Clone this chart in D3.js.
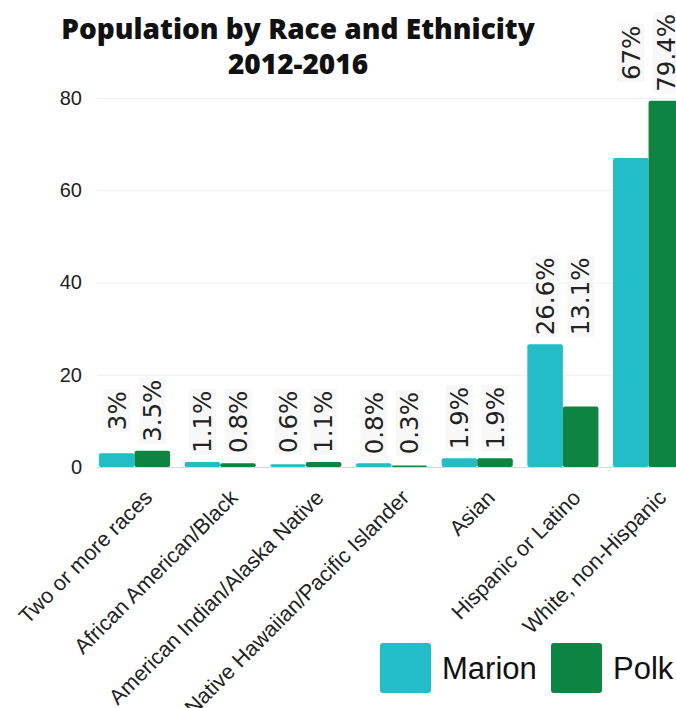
<!DOCTYPE html>
<html>
<head>
<meta charset="utf-8">
<script src="https://cdn.jsdelivr.net/npm/d3@7"></script>
<style>
  html, body { margin: 0; padding: 0; background: #ffffff; }
  svg { display: block; }
</style>
</head>
<body>
<svg id="chart" width="676" height="708"></svg>
<script>
// Population share (%) by race and ethnicity, 2012-2016
const categories = [
  "Two or more races",
  "African American/Black",
  "American Indian/Alaska Native",
  "Native Hawaiian/Pacific Islander",
  "Asian",
  "Hispanic or Latino",
  "White, non-Hispanic"
];
const seriesNames = ["Marion", "Polk"];
const marionValues = [3, 1.1, 0.6, 0.8, 1.9, 26.6, 67];
const polkValues = [3.5, 0.8, 1.1, 0.3, 1.9, 13.1, 79.4];
const yTickValues = [0, 20, 40, 60, 80];
const titleLines = ["Population by Race and Ethnicity", "2012-2016"];

const seriesColors = { Marion: "#23bdc8", Polk: "#0e8442" };
const textFont = "'Liberation Sans', Arial, sans-serif";
const valueFont = "'DejaVu Sans', sans-serif";

const svg = d3.select("#chart");

const x0 = d3.scaleBand()
  .domain(categories)
  .range([91.7, 691.4])
  .paddingInner(0.17)
  .paddingOuter(0.085);

const x1 = d3.scaleBand()
  .domain(seriesNames)
  .range([0, x0.bandwidth()]);

const y = d3.scaleLinear().domain([0, 80]).range([467, 98]);

const rows = categories.map((c, i) => ({
  category: c,
  values: [
    { series: "Marion", value: marionValues[i] },
    { series: "Polk", value: polkValues[i] }
  ]
}));

// Title
svg.append("g")
  .selectAll("text")
  .data(titleLines)
  .join("text")
  .attr("x", 298)
  .attr("y", (d, i) => 39 + i * 35)
  .attr("text-anchor", "middle")
  .attr("font-family", "'Open Sans', sans-serif")
  .attr("font-weight", 800)
  .attr("font-size", 28)
  .attr("fill", "#111")
  .text(d => d);

// Gridlines and y tick labels
const yAxis = d3.axisLeft(y)
  .tickValues(yTickValues)
  .tickSize(-600)
  .tickPadding(15);

const yAxisG = svg.append("g")
  .attr("transform", "translate(97,0)")
  .call(yAxis);
yAxisG.select(".domain").remove();
yAxisG.selectAll(".tick line")
  .attr("stroke", d => d === 0 ? "#d8d8d8" : "#efefef")
  .attr("stroke-width", 1.2);
yAxisG.selectAll(".tick text")
  .attr("font-family", textFont)
  .attr("font-size", 20)
  .attr("fill", "#222");

// Bars
const groups = svg.append("g")
  .selectAll("g")
  .data(rows)
  .join("g")
  .attr("transform", d => `translate(${x0(d.category)},0)`);

groups.selectAll("rect")
  .data(d => d.values)
  .join("rect")
  .attr("x", d => x1(d.series))
  .attr("y", d => y(d.value))
  .attr("width", x1.bandwidth())
  .attr("height", d => y(0) - y(d.value))
  .attr("rx", 2)
  .attr("fill", d => seriesColors[d.series]);

// Value labels, rotated, stacked above the taller bar in each group
const labelFontSize = 24.5;
groups.each(function (row) {
  const g = d3.select(this);
  const top = y(d3.max(row.values, v => v.value));
  const labels = g.selectAll("g.vlabel")
    .data(row.values)
    .join("g")
    .attr("class", "vlabel");
  const texts = labels.append("text")
    .attr("text-anchor", "middle")
    .attr("dy", "0.36em")
    .attr("font-family", valueFont)
    .attr("font-size", labelFontSize)
    .attr("fill", "#222")
    .text(v => `${v.value}%`);
  let maxLen = 0;
  texts.each(function () { maxLen = Math.max(maxLen, this.getComputedTextLength()); });
  labels.attr("transform", v =>
    `translate(${x1(v.series) + x1.bandwidth() / 2},${top - 9 - maxLen / 2}) rotate(-90)`);
  labels.each(function () {
    const t = d3.select(this).select("text");
    const len = t.node().getComputedTextLength();
    d3.select(this).insert("rect", "text")
      .attr("x", -len / 2 - 2)
      .attr("y", -labelFontSize * 0.55)
      .attr("width", len + 4)
      .attr("height", labelFontSize * 1.1)
      .attr("fill", "#f8f8f8");
  });
});

// Category labels
svg.append("g")
  .selectAll("text")
  .data(categories)
  .join("text")
  .attr("transform", c => `translate(${x0(c) + x0.bandwidth() / 2 + 19},499) rotate(-45)`)
  .attr("text-anchor", "end")
  .attr("font-family", textFont)
  .attr("font-size", 21.5)
  .attr("fill", "#222")
  .text(c => c);

// Legend
const legendX = { Marion: 380, Polk: 551 };
const legend = svg.append("g")
  .selectAll("g")
  .data(seriesNames)
  .join("g")
  .attr("transform", s => `translate(${legendX[s]},643)`);
legend.append("rect")
  .attr("width", 51)
  .attr("height", 50)
  .attr("rx", 3)
  .attr("fill", s => seriesColors[s]);
legend.append("text")
  .attr("x", 62)
  .attr("y", 36)
  .attr("font-family", textFont)
  .attr("font-size", 31)
  .attr("fill", "#111")
  .text(s => s);
</script>
</body>
</html>
